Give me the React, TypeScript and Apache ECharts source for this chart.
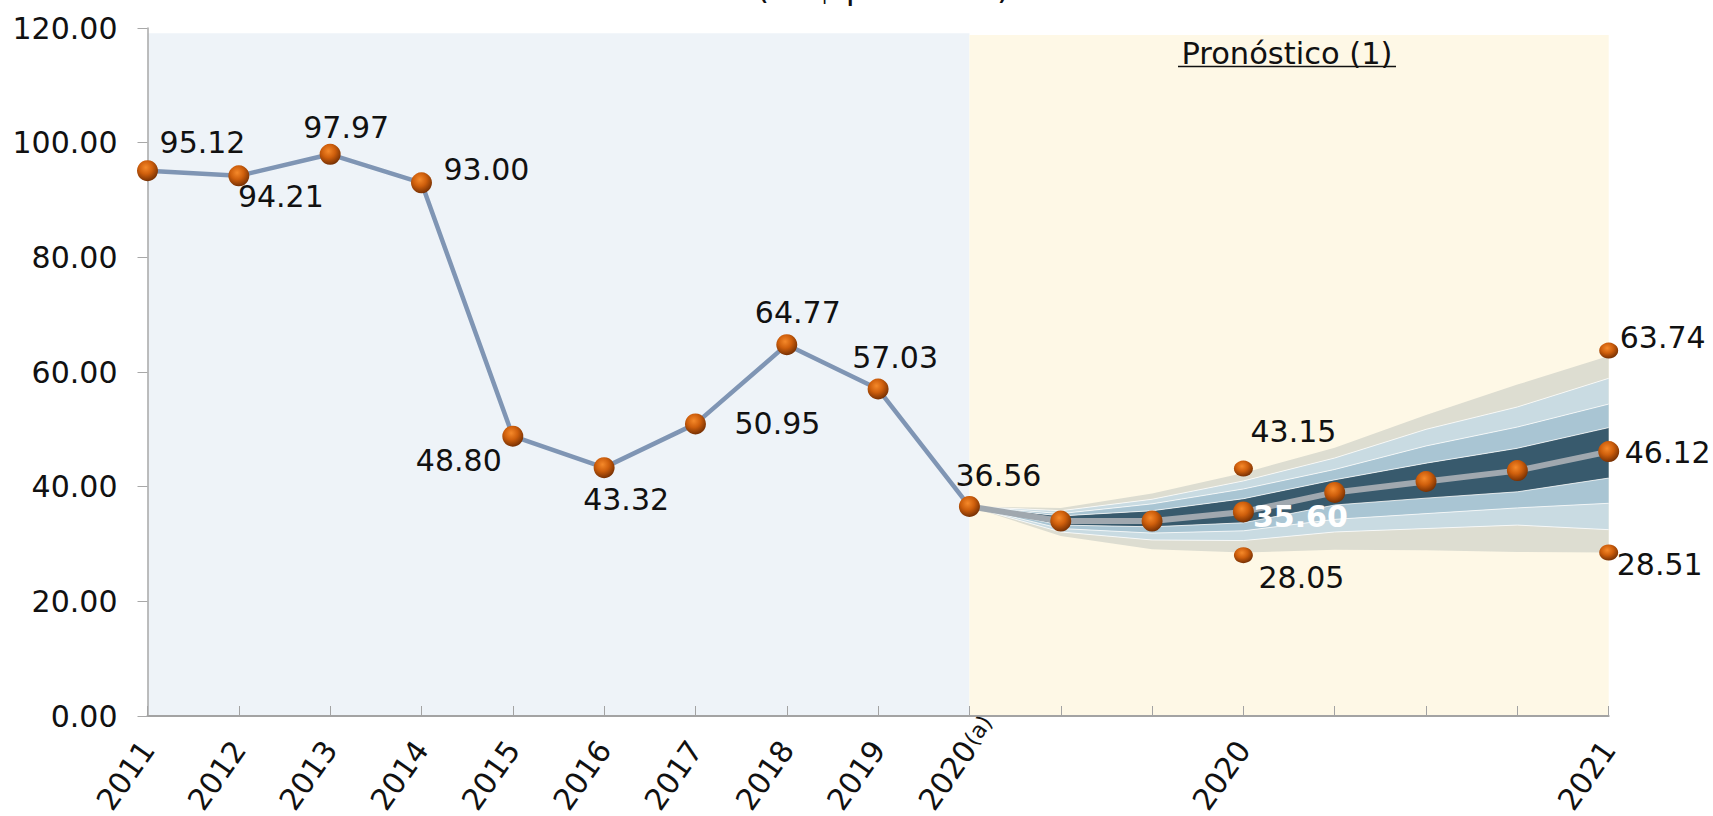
import React, { useEffect, useRef } from "react";
import * as echarts from "echarts";

// Oil price history and forecast fan (US$ per barrel)
const periodKeys = [
  "2011", "2012", "2013", "2014", "2015", "2016", "2017", "2018", "2019", "2020(a)",
  "2020 p1", "2020 p2", "2020", "2021 p1", "2021 p2", "2021 p3", "2021",
];
const tickLabels = [
  "2011", "2012", "2013", "2014", "2015", "2016", "2017", "2018", "2019", "2020",
  "", "", "2020", "", "", "", "2021",
];
// small note marks written after a tick label
const tickSuffixes = ["", "", "", "", "", "", "", "", "", "(a)", "", "", "", "", "", "", ""];
const yTicks = [0, 20, 40, 60, 80, 100, 120];

const histValues = [95.12, 94.21, 97.97, 93.0, 48.8, 43.32, 50.95, 64.77, 57.03, 36.56];

// forecast, starting at the last observed point (index 9)
const forecastStart = 9;
const forecastMedian = [36.56, 34.0, 34.0, 35.6, 39.0, 40.9, 42.8, 46.12];
const fanOuterLow = [36.56, 31.4, 29.1, 28.5, 29.0, 28.9, 28.6, 28.5];
const fanLightLow = [36.56, 32.1, 30.7, 30.6, 32.1, 32.7, 33.3, 32.5];
const fanMidLow = [36.56, 32.7, 31.9, 32.3, 34.3, 35.3, 36.3, 37.1];
const fanDarkLow = [36.56, 33.3, 33.0, 33.7, 36.8, 38.0, 39.1, 41.5];
const fanDarkHigh = [36.56, 34.9, 35.8, 37.9, 41.2, 44.1, 46.7, 50.3];
const fanMidHigh = [36.56, 35.3, 37.0, 39.6, 43.0, 47.1, 50.4, 54.4];
const fanLightHigh = [36.56, 35.8, 37.8, 41.0, 45.0, 50.0, 53.9, 58.9];
const fanOuterHigh = [36.56, 36.3, 38.8, 42.4, 46.8, 52.5, 57.8, 62.8];

// range extremes shown as separate points
const extremeKeys = ["2020", "2020", "2021", "2021"];
const extremeValues = [43.15, 28.05, 63.74, 28.51];

// label placement (offset of the label centre from its point, px)
const histLabelOffsets = [
  [55, -28], [42, 21], [16, -27], [65, -13], [-54, 24],
  [22, 32], [82, 0], [11, -32], [17, -32], [29, -31],
];
const medianLabelIdx = [3, 7];
const medianLabelOffsets = [[57, 5], [59, 1]];
const extremeLabelOffsets = [[50, -37], [58, 22], [54, -13], [51, 12]];

const FONT = '"DejaVu Sans", "Liberation Sans", sans-serif';
const TEXT = "#111111";

const sphere = {
  type: "radial",
  x: 0.42,
  y: 0.35,
  r: 0.7,
  colorStops: [
    { offset: 0, color: "#F5892A" },
    { offset: 0.45, color: "#CF5F0C" },
    { offset: 1, color: "#6B2A02" },
  ],
};

const pad = (arr: number[]) => [
  ...Array(forecastStart).fill("-"),
  ...arr,
];

const diff = (hi: number[], lo: number[]) =>
  hi.map((v, i) => Math.round((v - lo[i]) * 1000) / 1000);

const fmt2 = (p: any) => {
  const v = Array.isArray(p.value) ? p.value[1] : p.value;
  return Number(v).toFixed(2);
};

function buildOption() {
  const bandLayers = [
    { data: fanOuterLow, color: "transparent", base: true },
    { data: diff(fanLightLow, fanOuterLow), color: "#DDDDD1" },
    { data: diff(fanMidLow, fanLightLow), color: "#C9DBE2" },
    { data: diff(fanDarkLow, fanMidLow), color: "#A9C5D3" },
    { data: diff(fanDarkHigh, fanDarkLow), color: "#385A6D" },
    { data: diff(fanMidHigh, fanDarkHigh), color: "#A9C5D3" },
    { data: diff(fanLightHigh, fanMidHigh), color: "#C9DBE2" },
    { data: diff(fanOuterHigh, fanLightHigh), color: "#DDDDD1", top: true },
  ];

  const fanSeries = bandLayers.map((b, i) => ({
    type: "line",
    name: "fan" + i,
    stack: "fan",
    z: 4,
    silent: true,
    symbol: "none",
    data: pad(b.data),
    lineStyle: b.base || b.top
      ? { width: 0, opacity: 0 }
      : { width: 1, color: "rgba(255,255,255,0.75)" },
    areaStyle: b.base ? undefined : { color: b.color, opacity: 1 },
  }));

  const labelStyle = {
    fontFamily: FONT,
    fontSize: 30,
    color: TEXT,
    formatter: fmt2,
  };

  const histData = histValues.map((v, i) => ({
    value: v,
    label: {
      show: true,
      position: "inside",
      offset: histLabelOffsets[i],
      ...labelStyle,
    },
  }));

  const medianData: any[] = pad(forecastMedian).map((v: any, i: number) => {
    if (v === "-") return v;
    const k = i - forecastStart;
    if (k === 0) return { value: v, symbol: "none" };
    const li = medianLabelIdx.indexOf(k);
    if (li < 0) return v;
    const white = li === 0;
    return {
      value: v,
      label: {
        show: true,
        position: "inside",
        offset: medianLabelOffsets[li],
        ...labelStyle,
        color: white ? "#FFFFFF" : TEXT,
        fontWeight: white ? "bold" : "normal",
      },
    };
  });

  const extremeData = extremeValues.map((v, i) => ({
    value: [extremeKeys[i], v],
    label: {
      show: true,
      position: "inside",
      offset: extremeLabelOffsets[i],
      ...labelStyle,
    },
  }));

  return {
    animation: false,
    backgroundColor: "#FFFFFF",
    textStyle: { fontFamily: FONT },
    grid: {
      left: 147.5,
      top: 28,
      width: 1461.2,
      height: 688,
      containLabel: false,
      outerBoundsMode: "none",
    },
    xAxis: [
      {
        type: "category",
        data: periodKeys,
        boundaryGap: false,
        position: "bottom",
        z: 3,
        axisLine: { show: true, lineStyle: { color: "#A3A3A3", width: 2 } },
        axisTick: {
          show: true,
          inside: true,
          length: 10,
          interval: 0,
          lineStyle: { color: "#A3A3A3", width: 1 },
        },
        axisLabel: {
          interval: 0,
          rotate: 55,
          margin: 28,
          hideOverlap: false,
          fontFamily: FONT,
          fontSize: 30,
          color: TEXT,
          formatter: (_v: string, idx: number) => tickLabels[idx],
        },
        splitLine: { show: false },
      },
      {
        // suffix notes continuing the rotated tick labels
        type: "category",
        data: periodKeys,
        boundaryGap: false,
        position: "bottom",
        offset: 0,
        z: 3,
        axisLine: { show: false },
        axisTick: { show: false },
        axisLabel: {
          interval: 0,
          rotate: 55,
          margin: 27,
          align: "left",
          hideOverlap: false,
          fontFamily: FONT,
          fontSize: 22,
          color: TEXT,
          formatter: (_v: string, idx: number) => tickSuffixes[idx],
        },
        splitLine: { show: false },
      },
    ],
    yAxis: {
      type: "value",
      min: yTicks[0],
      max: yTicks[yTicks.length - 1],
      interval: yTicks[1] - yTicks[0],
      z: 3,
      axisLine: { show: true, lineStyle: { color: "#A8A8A8", width: 1.5 } },
      axisTick: { show: true, length: 10, lineStyle: { color: "#A8A8A8" } },
      axisLabel: {
        margin: 30,
        fontFamily: FONT,
        fontSize: 30,
        color: TEXT,
        formatter: (v: number) => v.toFixed(2),
      },
      splitLine: { show: false },
    },
    graphic: [
      {
        type: "text",
        x: 883,
        y: -12.5,
        silent: true,
        style: {
          text: "(US$ por barril)",
          fontFamily: FONT,
          fontSize: 33,
          fill: TEXT,
          align: "center",
          verticalAlign: "middle",
        },
      },
      {
        type: "text",
        x: 1287,
        y: 53,
        silent: true,
        z: 10,
        style: {
          text: "Pronóstico (1)",
          fontFamily: FONT,
          fontSize: 30.5,
          fill: TEXT,
          align: "center",
          verticalAlign: "middle",
        },
      },
      {
        type: "line",
        silent: true,
        z: 10,
        shape: { x1: 1178, y1: 66.5, x2: 1396, y2: 66.5 },
        style: { stroke: TEXT, lineWidth: 1.5 },
      },
    ],
    series: [
      {
        type: "line",
        name: "periods",
        z: 1,
        silent: true,
        symbol: "none",
        data: periodKeys.map(() => "-"),
        markArea: {
          silent: true,
          data: [
            [
              { xAxis: periodKeys[0], yAxis: 0, itemStyle: { color: "#EEF3F8" } },
              { xAxis: periodKeys[forecastStart], yAxis: 119.1 },
            ],
            [
              { xAxis: periodKeys[forecastStart], yAxis: 0, itemStyle: { color: "#FEF8E6" } },
              { xAxis: periodKeys[periodKeys.length - 1], yAxis: 118.8 },
            ],
          ],
        },
      },
      ...fanSeries,
      {
        type: "line",
        name: "median",
        z: 5,
        data: medianData,
        symbol: "circle",
        symbolSize: 21,
        lineStyle: { color: "#A0A8AF", width: 6 },
        itemStyle: { color: sphere, opacity: 1 },
      },
      {
        type: "line",
        name: "history",
        z: 6,
        data: histData,
        symbol: "circle",
        symbolSize: 21,
        lineStyle: { color: "#7F95B4", width: 4.5 },
        itemStyle: { color: sphere, opacity: 1 },
      },
      {
        type: "scatter",
        name: "range",
        z: 6,
        data: extremeData,
        symbol: "circle",
        symbolSize: [19, 16],
        itemStyle: { color: sphere, opacity: 1 },
      },
    ],
  };
}

export default function App() {
  const ref = useRef<HTMLDivElement>(null);
  useEffect(() => {
    if (!ref.current) return;
    const chart = echarts.init(ref.current, null, { renderer: "svg" });
    chart.setOption(buildOption() as any);
    return () => chart.dispose();
  }, []);
  return (
    <div
      ref={ref}
      style={{ position: "absolute", left: 0, top: 0, width: 1713, height: 816 }}
    />
  );
}
